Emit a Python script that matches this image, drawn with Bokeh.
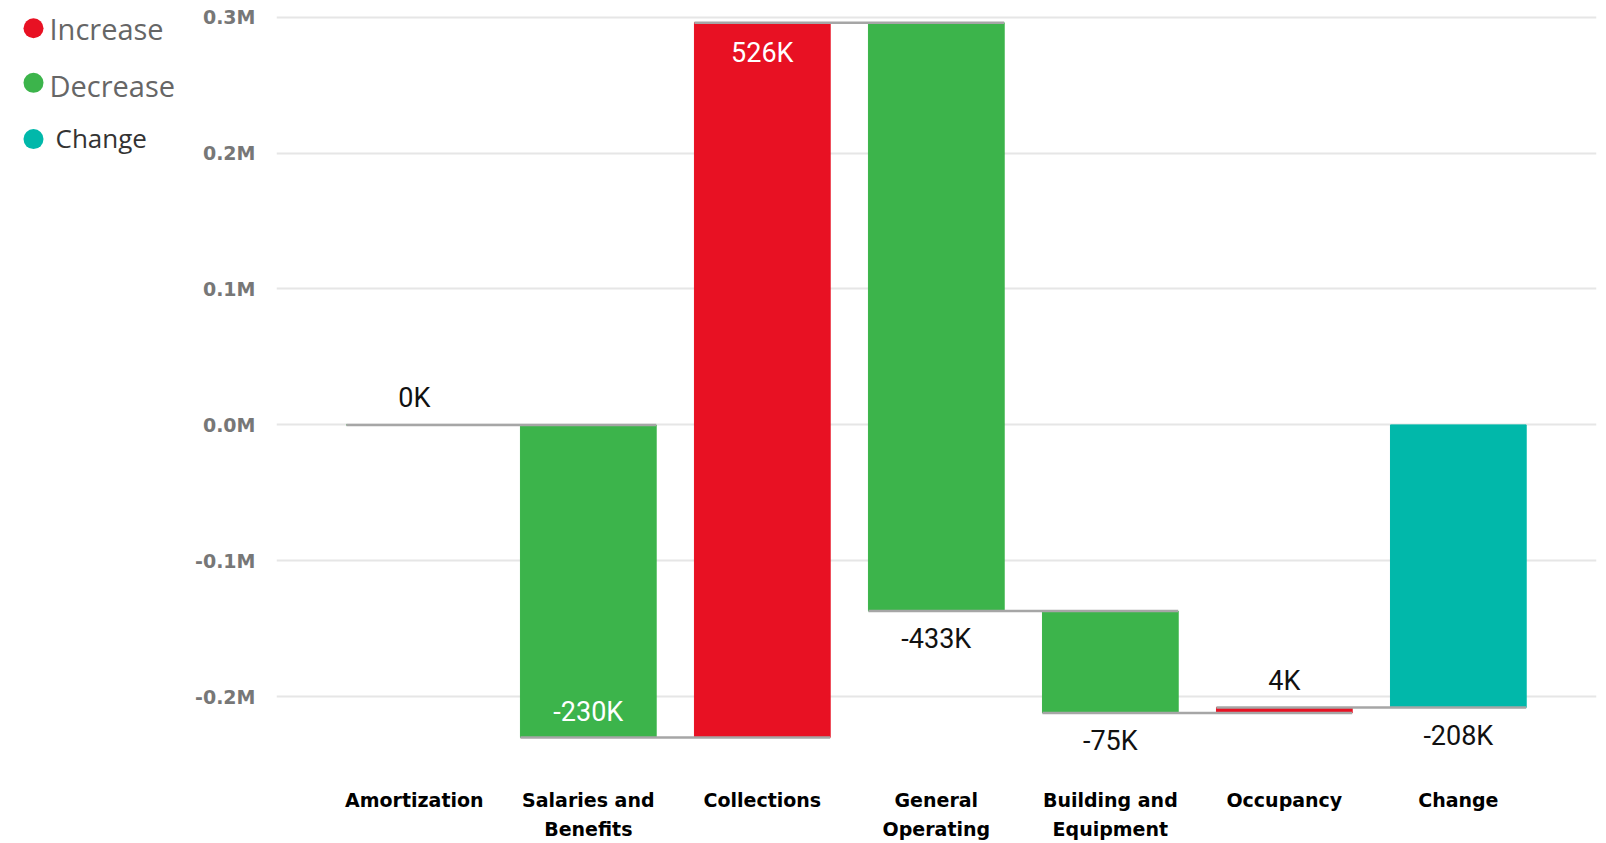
from bokeh.plotting import figure
from bokeh.layouts import row
from bokeh.models import Range1d, FixedTicker, ColumnDataSource, LabelSet
from bokeh.core.properties import value
from bokeh.embed import file_html
from bokeh.resources import INLINE

# ---- data ----
categories = ["Amortization", "Salaries and Benefits", "Collections",
              "General Operating", "Building and Equipment", "Occupancy", "Change"]
category_tick_labels = ["Amortization", "Salaries and\nBenefits", "Collections",
                        "General\nOperating", "Building and\nEquipment", "Occupancy", "Change"]
step_changes_k = [0, -230, 526, -433, -75, 4]      # thousands
total_change_k = -208
data_labels = ["0K", "-230K", "526K", "-433K", "-75K", "4K", "-208K"]
y_tick_values_k = [-200, -100, 0, 100, 200, 300]
y_tick_labels = ["-0.2M", "-0.1M", "0.0M", "0.1M", "0.2M", "0.3M"]
legend_labels = ["Increase", "Decrease", "Change"]

# ---- styles ----
RED = "#E81123"
GREEN = "#3CB44B"
TEAL = "#01B8AA"
CONNECTOR = "#A6A6A6"
BAR_W = 0.78
LEG_W = 190
TOTAL_W, TOTAL_H = 1606, 843
FRAME_H = 766.5   # expected plot-frame height (frames are aligned in the row)

# ---- waterfall geometry from data ----
starts, ends = [], []
running = 0
for c in step_changes_k:
    starts.append(running)
    running += c
    ends.append(running)
starts.append(0)
ends.append(total_change_k)

xs = list(range(len(categories)))
bottoms = [min(s, e) for s, e in zip(starts, ends)]
tops = [max(s, e) for s, e in zip(starts, ends)]
colors = [RED if c > 0 else GREEN for c in step_changes_k] + [TEAL]

bar_src = ColumnDataSource(dict(x=xs, bottom=bottoms, top=tops, color=colors))

conn_src = ColumnDataSource(dict(
    x0=[i - BAR_W / 2 for i in xs[:-1]],
    x1=[i + 1 + BAR_W / 2 for i in xs[:-1]],
    y=ends[:-1],
))

inside = {"Salaries and Benefits", "Collections"}
lab_y, lab_off, lab_col = [], [], []
for i, cat in enumerate(categories):
    delta = ends[i] - starts[i]
    lab_y.append(ends[i])
    if cat in inside:
        lab_off.append(-30 if delta > 0 else 25)
        lab_col.append("white")
    else:
        lab_off.append(27 if delta >= 0 else -28)
        lab_col.append("#111111")
lab_src = ColumnDataSource(dict(x=xs, y=lab_y, text=data_labels, off=lab_off, col=lab_col))

# ---- main chart ----
p = figure(width=TOTAL_W - LEG_W, height=TOTAL_H, output_backend="svg", toolbar_location=None,
           x_range=Range1d(-0.792, 6.794), y_range=Range1d(-252.1, 312.29),
           min_border_left=86, min_border_right=10, min_border_top=0, min_border_bottom=66)
p.outline_line_color = None
p.xgrid.grid_line_color = None
p.ygrid.grid_line_color = "#E6E6E6"
p.ygrid.grid_line_width = 2
p.background_fill_color = "white"
p.border_fill_color = "white"

p.vbar(x="x", bottom="bottom", top="top", width=BAR_W, color="color", source=bar_src)
p.segment(x0="x0", x1="x1", y0="y", y1="y", line_color=CONNECTOR, line_width=2.5, source=conn_src)

labels = LabelSet(x="x", y="y", text="text", y_offset="off", text_color="col",
                  text_align="center", text_baseline="middle",
                  text_font=value("Roboto"), text_font_size="27px", source=lab_src)
p.add_layout(labels)

p.yaxis.ticker = FixedTicker(ticks=y_tick_values_k)
p.yaxis.major_label_overrides = {v: l for v, l in zip(y_tick_values_k, y_tick_labels)}
p.yaxis.axis_line_color = None
p.yaxis.major_tick_line_color = None
p.yaxis.minor_tick_line_color = None
p.yaxis.major_tick_out = 0
p.yaxis.major_tick_in = 0
p.yaxis.major_label_standoff = 21
p.yaxis.major_label_text_font = "DejaVu Sans"
p.yaxis.major_label_text_font_style = "bold"
p.yaxis.major_label_text_font_size = "19px"
p.yaxis.major_label_text_color = "#777777"

p.xaxis.ticker = FixedTicker(ticks=xs)
p.xaxis.major_label_overrides = {i: l for i, l in zip(xs, category_tick_labels)}
p.xaxis.axis_line_color = None
p.xaxis.major_tick_line_color = None
p.xaxis.minor_tick_line_color = None
p.xaxis.major_tick_out = 0
p.xaxis.major_tick_in = 0
p.xaxis.major_label_standoff = 21
p.xaxis.major_label_text_font = "DejaVu Sans"
p.xaxis.major_label_text_font_style = "bold"
p.xaxis.major_label_text_font_size = "19px"
p.xaxis.major_label_text_color = "#000000"
p.xaxis.major_label_text_line_height = 1.35

# ---- legend panel (left) ----
leg = figure(width=LEG_W, height=TOTAL_H, output_backend="svg", toolbar_location=None,
             x_range=Range1d(0, LEG_W), y_range=Range1d(FRAME_H, 0),
             x_axis_location=None, y_axis_location=None,
             min_border_left=0, min_border_right=0, min_border_top=0, min_border_bottom=0)
leg.outline_line_color = None
leg.grid.grid_line_color = None
leg.background_fill_color = "white"
leg.border_fill_color = "white"

leg_src = ColumnDataSource(dict(
    cx=[33, 33, 33],
    cy=[27.7, 82.3, 138.5],
    tx=[49, 49, 55],
    ty=[28, 85, 137],
    label=legend_labels,
    color=[RED, GREEN, TEAL],
    tcolor=["#666666", "#666666", "#333333"],
    tsize=["29px", "29px", "26px"],
))
leg.scatter(x="cx", y="cy", size=20, marker="circle", fill_color="color", line_color=None, source=leg_src)
leg.text(x="tx", y="ty", text="label", text_color="tcolor", text_font_size="tsize",
         text_font=value("Open Sans"), text_baseline="middle", text_align="left", source=leg_src)

layout = row(leg, p, spacing=0)
open("out.html", "w").write(file_html(layout, INLINE))
